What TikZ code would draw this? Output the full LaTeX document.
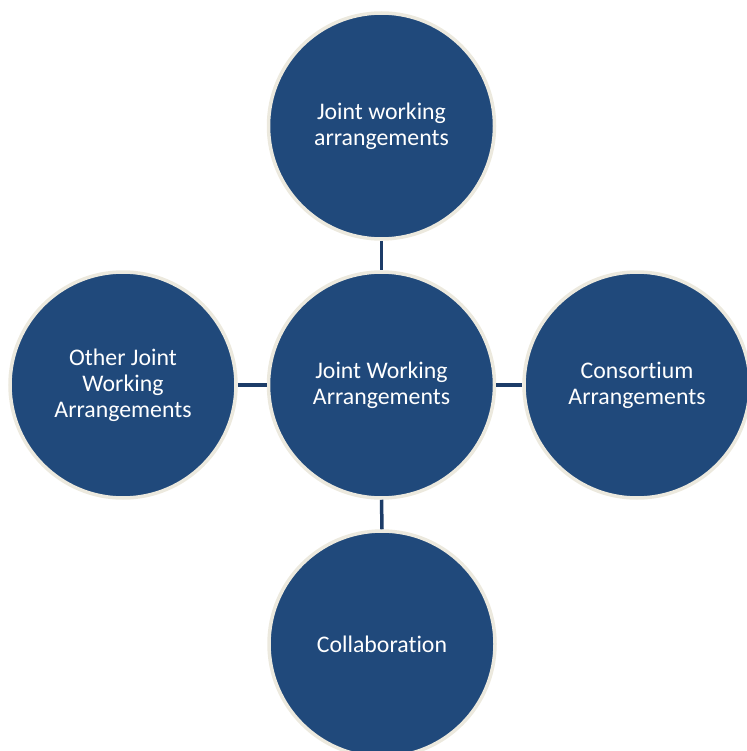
\documentclass[tikz,border=0pt]{standalone}
\usepackage{fontspec}
\setmainfont[Ligatures={NoCommon}]{Carlito}
\definecolor{circfill}{RGB}{32,73,123}
\definecolor{circedge}{RGB}{236,233,222}
\definecolor{linkcol}{RGB}{28,60,104}
\begin{document}
\begin{tikzpicture}[x=1pt,y=-1pt,
  bubble/.style={circle, fill=circfill, draw=circedge, line width=3.5pt,
    minimum size=226pt, inner sep=0pt, text=white, align=center,
    font=\fontsize{23.8}{26}\selectfont},
  link/.style={draw=linkcol, line width=3.5pt}]
\useasboundingbox (0,0) rectangle (746,751);
\node[bubble] (top) at (381.5,126) {Joint working\\arrangements};
\node[bubble] (mid) at (381.5,385) {Joint Working\\Arrangements};
\node[bubble] (left) at (123,385) {Other Joint\\Working\\Arrangements};
\node[bubble] (right) at (637,385) {Consortium\\Arrangements};
\node[bubble] (bot) at (382,644) {Collaboration};
\draw[link] (top.south) -- (mid.north);
\draw[link] (left.east) -- (mid.west);
\draw[link] (mid.east) -- (right.west);
\draw[link] (mid.south) -- (bot.north);
\end{tikzpicture}
\end{document}
